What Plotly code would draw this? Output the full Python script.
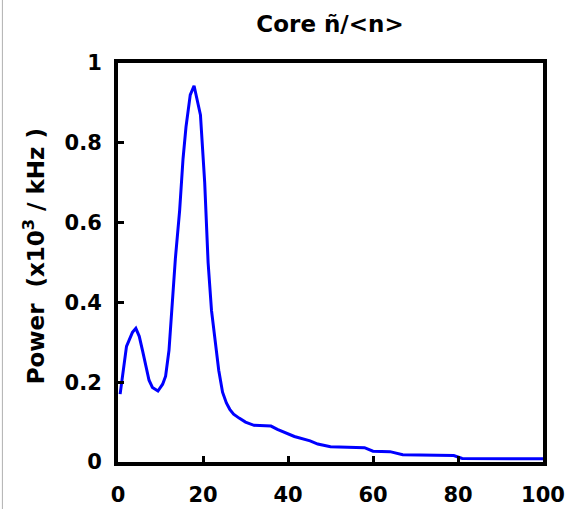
import plotly.graph_objects as go

freq_khz = [0.5, 1.3, 2.0, 2.6, 3.4, 4.2, 5.0, 5.8, 6.6, 7.3, 8.1, 9.4, 10.5, 11.2,
            12.0, 12.7, 13.5, 14.5, 15.3, 16.0, 17.0, 17.9, 18.6, 19.4, 20.4, 21.2,
            22.0, 23.0, 23.7, 24.6, 25.5, 26.3, 27.2, 28.5, 30.0, 32.0, 36.0, 37.5,
            39.5, 41.5, 45.2, 47.0, 50.0, 55.0, 58.0, 60.0, 64.0, 67.0, 75.0, 79.0,
            81.0, 90.0, 100.0]
power = [0.17, 0.24, 0.29, 0.305, 0.325, 0.335, 0.315, 0.278, 0.24, 0.205, 0.187,
         0.178, 0.195, 0.215, 0.28, 0.39, 0.51, 0.63, 0.76, 0.84, 0.92, 0.943, 0.91,
         0.87, 0.70, 0.50, 0.38, 0.29, 0.23, 0.175, 0.148, 0.132, 0.12, 0.11, 0.10,
         0.092, 0.090, 0.082, 0.072, 0.064, 0.053, 0.045, 0.038, 0.037, 0.036, 0.027,
         0.026, 0.018, 0.017, 0.016, 0.009, 0.009, 0.008]

x_ticks = [0, 20, 40, 60, 80, 100]
x_tick_labels = ["0", "20", "40", "60", "80", "100"]
y_ticks = [0, 0.2, 0.4, 0.6, 0.8, 1]
y_tick_labels = ["0", "0.2", "0.4", "0.6", "0.8", "1"]

title_text = "Core ñ/&lt;n&gt;"
y_title = "Power  (x10<sup>3</sup> / kHz )"

fig = go.Figure()
fig.add_trace(go.Scatter(x=freq_khz, y=power, mode="lines",
                         line=dict(color="#0000ff", width=3), showlegend=False))

font_family = "DejaVu Sans, Verdana, sans-serif"

fig.update_layout(
    width=571, height=509,
    margin=dict(l=118, r=28, t=63, b=47, autoexpand=False),
    paper_bgcolor="white", plot_bgcolor="white",
    title=dict(text=title_text, x=0.578, xanchor="center", y=0.952, yanchor="middle",
               font=dict(family=font_family, size=23, color="black", weight="bold")),
    font=dict(family=font_family, color="black"),
    shapes=[dict(type="line", xref="paper", yref="paper", x0=-0.272, x1=-0.272,
                 y0=-0.12, y1=1.16, line=dict(color="#b0b0b0", width=1))],
    annotations=[dict(text=y_title, xref="paper", yref="paper", x=-0.198, y=0.515,
                      xanchor="center", yanchor="middle", textangle=-90, showarrow=False,
                      font=dict(family=font_family, size=23, color="black", weight="bold"))],
)
fig.update_xaxes(
    range=[0, 100], tickvals=x_ticks, ticktext=x_tick_labels,
    ticks="inside", ticklen=6, tickwidth=3, tickcolor="black",
    showline=True, linecolor="black", linewidth=4, mirror=True,
    showgrid=False, zeroline=False, ticklabelstandoff=11, automargin=False,
    tickfont=dict(family=font_family, size=21, color="black", weight="bold"),
)
fig.update_yaxes(
    range=[0, 1], tickvals=y_ticks, ticktext=y_tick_labels,
    ticks="inside", ticklen=6, tickwidth=3, tickcolor="black",
    showline=True, linecolor="black", linewidth=4, mirror=True,
    showgrid=False, zeroline=False, ticklabelstandoff=8, automargin=False,
    tickfont=dict(family=font_family, size=21, color="black", weight="bold"),
)

fig.write_html("out.html")
